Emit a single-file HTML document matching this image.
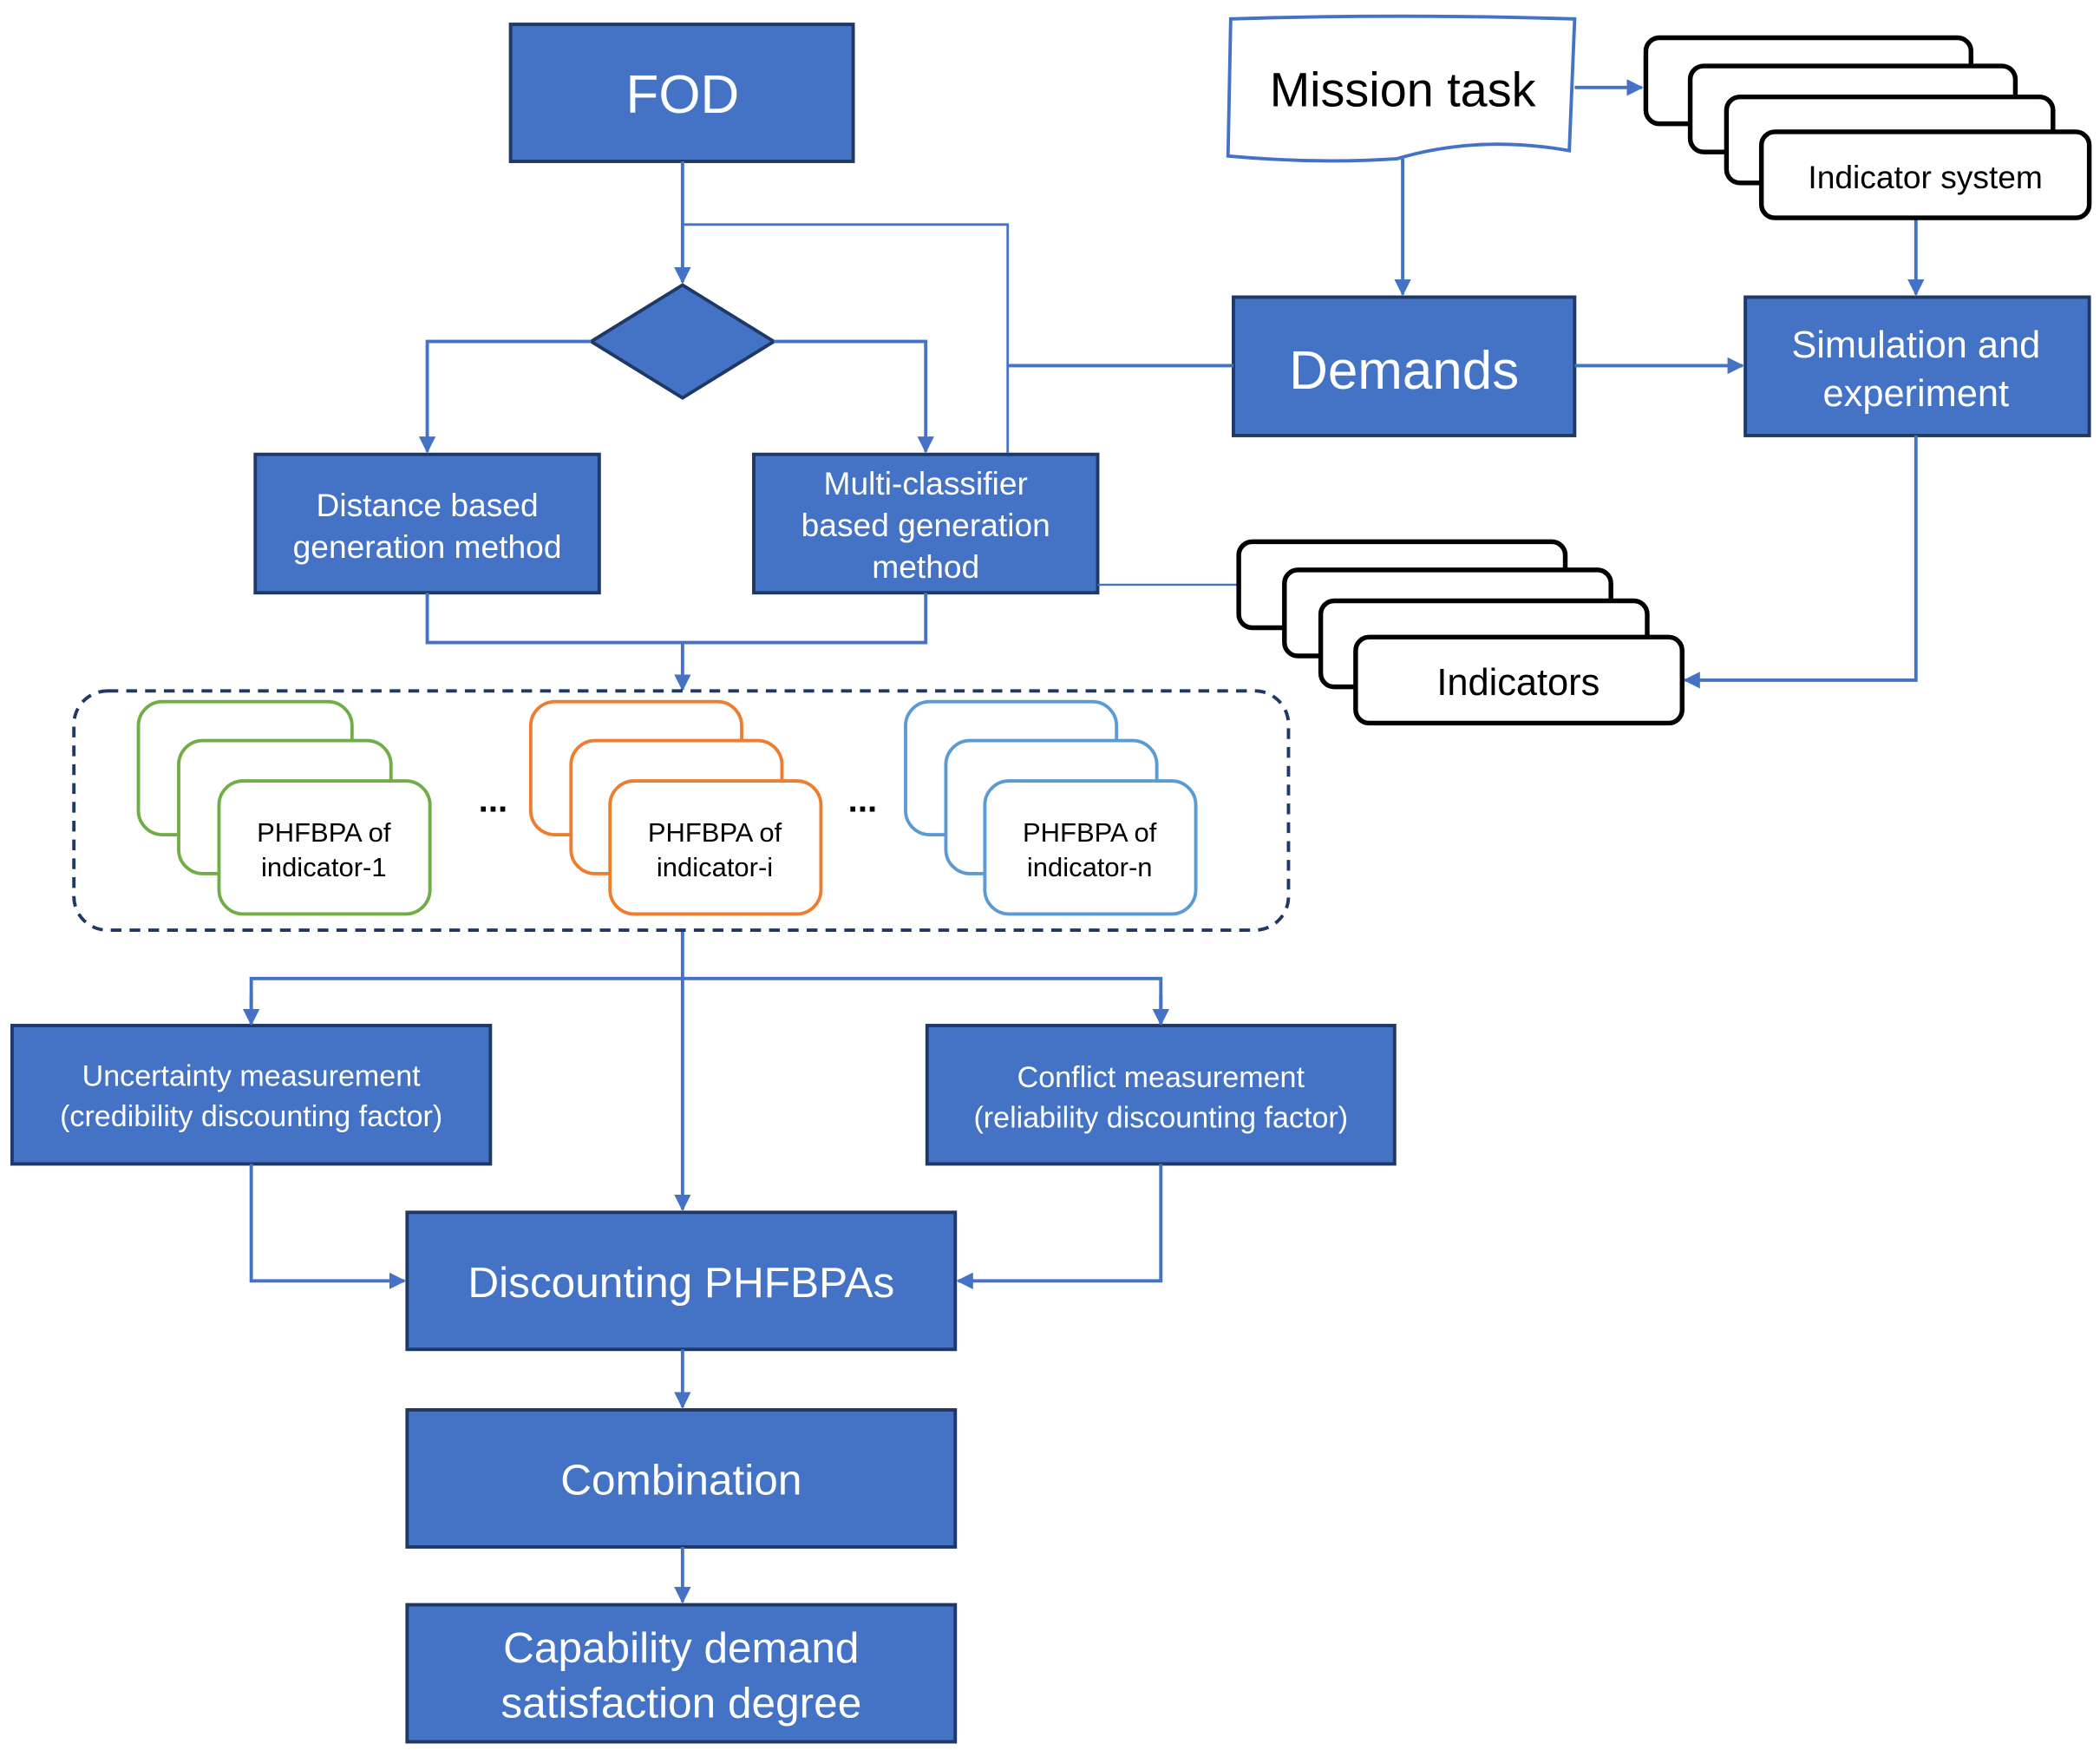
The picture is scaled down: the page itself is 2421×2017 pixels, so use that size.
<!DOCTYPE html>
<html><head><meta charset="utf-8"><style>
html,body{margin:0;padding:0;background:#fff;}
svg{display:block;}
text{font-family:"Liberation Sans","DejaVu Sans",sans-serif;}
</style></head><body>
<svg width="2421" height="2017" viewBox="0 0 1563 1302" xmlns="http://www.w3.org/2000/svg">
<defs>
<marker id="a" viewBox="0 0 10 10" refX="9" refY="5" markerWidth="5" markerHeight="5" orient="auto"><path d="M0,0L10,5L0,10z" fill="#4472C4"/></marker>
</defs>
<g fill="#4472C4" stroke="#1F3864" stroke-width="2.5">
<rect x="380" y="18" width="255" height="102"/>
<polygon points="440,254 508,212 576,254 508,296"/>
<rect x="190" y="338" width="256" height="103"/>
<rect x="561" y="338" width="256" height="103"/>
<rect x="918" y="221" width="254" height="103"/>
<rect x="1299" y="221" width="256" height="103"/>
<rect x="9" y="763" width="356" height="103"/>
<rect x="690" y="763" width="348" height="103"/>
<rect x="303" y="902" width="408" height="102"/>
<rect x="303" y="1049" width="408" height="102"/>
<rect x="303" y="1194" width="408" height="102"/>
</g>
<g fill="none" stroke="#4472C4" stroke-width="2.5">
<path d="M508,120V210" marker-end="url(#a)"/>
<path d="M508,167H750V337" stroke-width="1.8"/>
<path d="M750,272H918"/>
<path d="M440,254H318V336" marker-end="url(#a)"/>
<path d="M576,254H689V336" marker-end="url(#a)"/>
<path d="M318,441V478H689V441"/>
<path d="M508,478V513" marker-end="url(#a)"/>
<path d="M817,435H922" stroke-width="1.5"/>
<path d="M508,692V900" marker-end="url(#a)"/>
<path d="M187,762V728H864V762" />
<path d="M187,740V762" marker-end="url(#a)"/>
<path d="M864,740V762" marker-end="url(#a)"/>
<path d="M187,866V953H301" marker-end="url(#a)"/>
<path d="M864,866V953H713" marker-end="url(#a)"/>
<path d="M508,1004V1047" marker-end="url(#a)"/>
<path d="M508,1151V1192" marker-end="url(#a)"/>
<path d="M1172,65H1222" marker-end="url(#a)"/>
<path d="M1044,118V219" marker-end="url(#a)"/>
<path d="M1426,162V219" marker-end="url(#a)"/>
<path d="M1172,272H1297" marker-end="url(#a)"/>
<path d="M1426,324V506H1254" marker-end="url(#a)"/>
</g>
<path d="M916,14 Q1040,10 1172,14 L1168,112 Q1100,100 1040,118 Q980,122 914,116 Z" fill="#fff" stroke="#4472C4" stroke-width="2.5"/>
<g fill="#fff" stroke="#000" stroke-width="3.5">
<rect x="1225" y="28" width="242" height="64" rx="10"/>
<rect x="1258" y="49" width="242" height="64" rx="10"/>
<rect x="1285" y="72" width="243" height="64" rx="10"/>
<rect x="1311" y="98" width="244" height="64" rx="10"/>
<rect x="922" y="403" width="243" height="64" rx="10"/>
<rect x="956" y="424" width="243" height="64" rx="10"/>
<rect x="983" y="447" width="243" height="64" rx="10"/>
<rect x="1009" y="474" width="243" height="64" rx="10"/>
</g>
<rect x="55" y="514" width="904" height="178" rx="25" fill="none" stroke="#1F3864" stroke-width="2.5" stroke-dasharray="8,6"/>
<g fill="#fff" stroke-width="2.5">
<g stroke="#70AD47"><rect x="103" y="522" width="159" height="99" rx="18"/><rect x="133" y="551" width="158" height="99" rx="18"/><rect x="163" y="581" width="157" height="99" rx="18"/></g>
<g stroke="#ED7D31"><rect x="395" y="522" width="157" height="99" rx="18"/><rect x="425" y="551" width="157" height="99" rx="18"/><rect x="454" y="581" width="157" height="99" rx="18"/></g>
<g stroke="#5B9BD5"><rect x="674" y="522" width="157" height="99" rx="18"/><rect x="704" y="551" width="157" height="99" rx="18"/><rect x="733" y="581" width="157" height="99" rx="18"/></g>
</g>
<g text-anchor="middle" fill="#fff">
<text x="508" y="84" font-size="40">FOD</text>
<text x="318" y="384" font-size="24">Distance based</text>
<text x="318" y="415" font-size="24">generation method</text>
<text x="689" y="368" font-size="24">Multi-classifier</text>
<text x="689" y="399" font-size="24">based generation</text>
<text x="689" y="430" font-size="24">method</text>
<text x="1045" y="289" font-size="40">Demands</text>
<text x="1426" y="266" font-size="28">Simulation and</text>
<text x="1426" y="302" font-size="28">experiment</text>
<text x="187" y="808" font-size="22">Uncertainty measurement</text>
<text x="187" y="838" font-size="22">(credibility discounting factor)</text>
<text x="864" y="809" font-size="22">Conflict measurement</text>
<text x="864" y="839" font-size="22">(reliability discounting factor)</text>
<text x="507" y="965" font-size="32">Discounting PHFBPAs</text>
<text x="507" y="1112" font-size="32">Combination</text>
<text x="507" y="1237" font-size="32">Capability demand</text>
<text x="507" y="1278" font-size="32">satisfaction degree</text>
</g>
<g text-anchor="middle" fill="#000">
<text x="1044" y="79" font-size="36">Mission task</text>
<text x="1433" y="140" font-size="24">Indicator system</text>
<text x="1130" y="517" font-size="28">Indicators</text>
<text x="241" y="626" font-size="20">PHFBPA of</text>
<text x="241" y="652" font-size="20">indicator-1</text>
<text x="532" y="626" font-size="20">PHFBPA of</text>
<text x="532" y="652" font-size="20">indicator-i</text>
<text x="811" y="626" font-size="20">PHFBPA of</text>
<text x="811" y="652" font-size="20">indicator-n</text>
<text x="367" y="604" font-size="26" font-weight="bold">...</text>
<text x="642" y="604" font-size="26" font-weight="bold">...</text>
</g>
</svg>
</body></html>
